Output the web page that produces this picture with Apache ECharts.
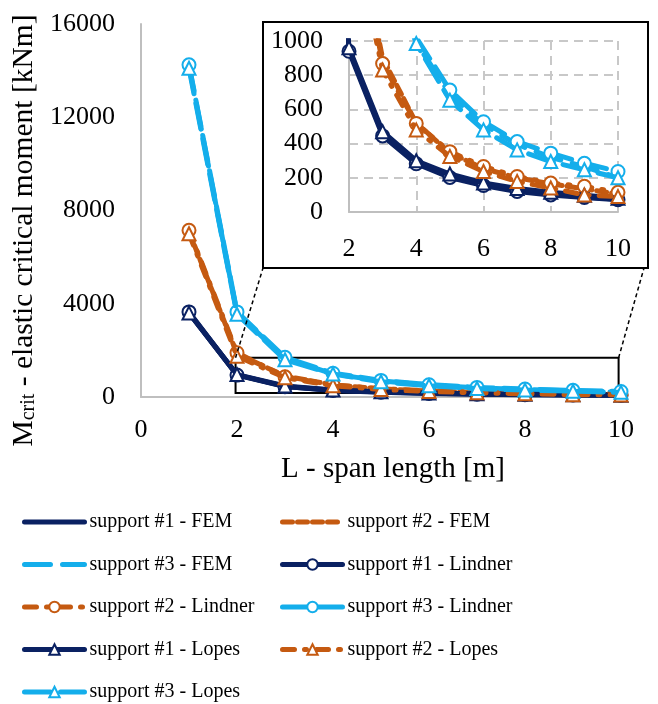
<!DOCTYPE html>
<html>
<head>
<meta charset="utf-8">
<script src="https://cdn.jsdelivr.net/npm/echarts@6/dist/echarts.min.js"></script>
<style>html,body{margin:0;padding:0;background:#fff}#c{width:658px;height:704px}</style>
</head>
<body>
<div id="c"></div>
<script>
// ---- data (x = span length L in m) ----
var spans = [1, 2, 3, 4, 5, 6, 7, 8, 9, 10];
var xTicksMain = [0, 2, 4, 6, 8, 10];
var yTicksMain = [0, 4000, 8000, 12000, 16000];
var xTicksInset = [2, 4, 6, 8, 10];
var yTicksInset = [0, 200, 400, 600, 800, 1000];

var s1FEM     = [3600, 950, 455, 290, 210, 160, 128, 105, 88, 75];
var s2FEM     = [7100, 1850, 900, 520, 345, 255, 200, 165, 135, 105];
var s3FEM     = [14200, 3600, 1650, 990, 690, 510, 395, 320, 265, 200];
var s1Lindner = [3650, 940, 445, 282, 202, 155, 120, 100, 85, 72];
var s2Lindner = [7150, 1900, 868, 518, 353, 266, 208, 169, 150, 115];
var s3Lindner = [14250, 3650, 1700, 1020, 713, 528, 412, 344, 285, 237];
var s1Lopes   = [3600, 960, 470, 300, 222, 170, 138, 116, 98, 80];
var s2Lopes   = [7000, 1750, 830, 480, 325, 237, 179, 140, 100, 90];
var s3Lopes   = [14100, 3550, 1600, 985, 654, 480, 363, 295, 247, 200];

var NAVY = '#0a2162', ORANGE = '#c55a11', CYAN = '#14aeeb';
var FONT = 'Liberation Serif';

var defs = [
  {name: 'support #1 - FEM', data: s1FEM, color: NAVY, type: 'solid', symbol: 'none'},
  {name: 'support #2 - FEM', data: s2FEM, color: ORANGE, type: [10, 5], symbol: 'none'},
  {name: 'support #3 - FEM', data: s3FEM, color: CYAN, type: [26, 12], symbol: 'none'},
  {name: 'support #1 - Lindner', data: s1Lindner, color: NAVY, type: 'solid', symbol: 'emptyCircle'},
  {name: 'support #2 - Lindner', data: s2Lindner, color: ORANGE, type: [12, 10, 2, 10], symbol: 'emptyCircle'},
  {name: 'support #3 - Lindner', data: s3Lindner, color: CYAN, type: [26, 10], symbol: 'emptyCircle'},
  {name: 'support #1 - Lopes', data: s1Lopes, color: NAVY, type: 'solid', symbol: 'emptyTriangle'},
  {name: 'support #2 - Lopes', data: s2Lopes, color: ORANGE, type: [12, 10, 2, 10], symbol: 'emptyTriangle'},
  {name: 'support #3 - Lopes', data: s3Lopes, color: CYAN, type: [26, 10], symbol: 'emptyTriangle'}
];

var legendLeft = ['support #1 - FEM', 'support #3 - FEM', 'support #2 - Lindner', 'support #1 - Lopes', 'support #3 - Lopes'];
var legendRight = ['support #2 - FEM', 'support #1 - Lindner', 'support #3 - Lindner', 'support #2 - Lopes'];

// zoom window shown as rectangle on main plot
var zoomBox = [[1.97, 170], [9.95, 1680]];

var series = [];
[0, 1].forEach(function (g) {
  defs.forEach(function (d, i) {
    var s = {
      name: d.name,
      type: 'line',
      xAxisIndex: g, yAxisIndex: g,
      data: spans.map(function (x, k) { return [x, d.data[k]]; }),
      symbol: d.symbol === 'none' ? 'emptyCircle' : d.symbol,
      symbolSize: 13,
      showSymbol: d.symbol !== 'none',
      lineStyle: {color: d.color, width: 5, type: d.type, cap: 'round', join: 'round'},
      itemStyle: {color: d.color, borderWidth: 2},
      emphasis: {disabled: true},
      clip: true,
      z: g === 0 ? 2 + i * 0.01 : 70 + i * 0.01,
      animation: false
    };
    if (g === 0 && i === 0) {
      s.markArea = {
        silent: true,
        itemStyle: {color: 'rgba(0,0,0,0)', borderColor: '#000', borderWidth: 2},
        data: [[{coord: zoomBox[0]}, {coord: zoomBox[1]}]]
      };
    }
    series.push(s);
  });
});

function legendItems(names) {
  return names.map(function (n) {
    var d = defs.filter(function (x) { return x.name === n; })[0];
    var item = {name: n};
    if (d.symbol === 'none') item.itemStyle = {opacity: 0};
    return item;
  });
}

var inset = {left: 263, top: 22, right: 648, bottom: 268};

var plainNum = function (v) { return String(v); };
var axisLabelStyle = {fontFamily: FONT, fontSize: 26, color: '#000', formatter: plainNum};
var grayLine = {show: true, lineStyle: {color: '#bfbfbf', width: 2}};
var legendCommon = {orient: 'vertical', top: 512, padding: 0, itemWidth: 60, itemHeight: 13, itemGap: 22.5,
  lineStyle: {width: 5}, height: 200,
  textStyle: {fontFamily: FONT, fontSize: 20, color: '#000', lineHeight: 20}, selectedMode: false};

var chart = echarts.init(document.getElementById('c'), null, {renderer: 'canvas'});
var option = {
  animation: false,
  backgroundColor: '#fff',
  grid: [
    {left: 141, top: 24, right: 37, bottom: 307},
    {left: 349, top: 41, right: 40, bottom: 492, z: 60}
  ],
  xAxis: [
    {type: 'value', gridIndex: 0, min: xTicksMain[0], max: xTicksMain[xTicksMain.length - 1], interval: 2,
     axisLine: grayLine, axisTick: {show: false}, splitLine: {show: false},
     axisLabel: Object.assign({margin: 20}, axisLabelStyle),
     name: 'L - span length [m]', nameLocation: 'middle', nameGap: 58,
     nameTextStyle: {fontFamily: FONT, fontSize: 29, color: '#000', padding: [0, 0, 0, 24]}},
    {type: 'value', gridIndex: 1, min: xTicksInset[0], max: xTicksInset[xTicksInset.length - 1], interval: 2, z: 60,
     axisLine: grayLine, axisTick: {show: false},
     splitLine: {show: true, lineStyle: {color: '#c8c8c8', width: 2, type: [9, 6]}},
     axisLabel: Object.assign({margin: 24}, axisLabelStyle)}
  ],
  yAxis: [
    {type: 'value', gridIndex: 0, min: yTicksMain[0], max: yTicksMain[yTicksMain.length - 1], interval: 4000,
     axisLine: grayLine, axisTick: {show: false}, splitLine: {show: false},
     axisLabel: Object.assign({margin: 26}, axisLabelStyle),
     name: '{m|M}{s|crit}{m| - elastic critical moment [kNm]}', nameLocation: 'middle', nameGap: 98,
     nameTextStyle: {fontFamily: FONT, fontSize: 29, color: '#000', padding: [0, 40, 0, 0],
       rich: {
         m: {fontFamily: FONT, fontSize: 29.5, color: '#000', lineHeight: 30},
         s: {fontFamily: FONT, fontSize: 20, color: '#000', lineHeight: 6, verticalAlign: 'bottom'}
       }}},
    {type: 'value', gridIndex: 1, min: yTicksInset[0], max: yTicksInset[yTicksInset.length - 1], interval: 200, z: 60,
     axisLine: grayLine, axisTick: {show: false},
     splitLine: {show: true, lineStyle: {color: '#c8c8c8', width: 2, type: [9, 6]}},
     axisLabel: Object.assign({margin: 26}, axisLabelStyle)}
  ],
  legend: [
    Object.assign({data: legendItems(legendLeft), left: 22}, legendCommon),
    Object.assign({data: legendItems(legendRight), left: 280}, legendCommon)
  ],
  series: series
};
chart.setOption(option);

// inset frame and dashed leader lines, anchored to the zoom rectangle via the library's scale
var pTL = chart.convertToPixel({gridIndex: 0}, [zoomBox[0][0], zoomBox[1][1]]);
var pTR = chart.convertToPixel({gridIndex: 0}, [zoomBox[1][0], zoomBox[1][1]]);
chart.setOption({
  graphic: [
    {type: 'rect', z: 50, shape: {x: inset.left, y: inset.top, width: inset.right - inset.left, height: inset.bottom - inset.top},
     style: {fill: '#fff', stroke: '#000', lineWidth: 2}, silent: true},
    {type: 'line', z: 50, shape: {x1: pTL[0], y1: pTL[1], x2: inset.left, y2: inset.bottom},
     style: {stroke: '#000', lineWidth: 1.5, lineDash: [4, 3]}, silent: true},
    {type: 'line', z: 50, shape: {x1: pTR[0], y1: pTR[1], x2: inset.right - 4, y2: inset.bottom},
     style: {stroke: '#000', lineWidth: 1.5, lineDash: [4, 3]}, silent: true}
  ]
});
</script>
</body>
</html>
